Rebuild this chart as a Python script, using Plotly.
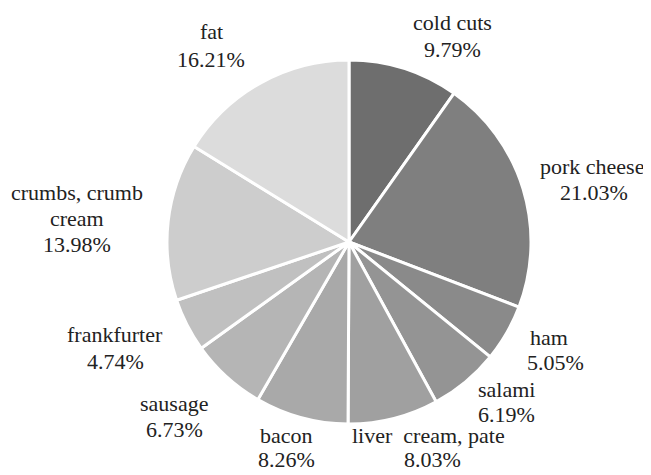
import plotly.graph_objects as go

categories = ["cold cuts", "pork cheese", "ham", "salami", "liver cream, pate",
              "bacon", "sausage", "frankfurter", "crumbs, crumb cream", "fat"]
values = [9.79, 21.03, 5.05, 6.19, 8.03, 8.26, 6.73, 4.74, 13.98, 16.21]
label_lines = [["cold cuts"], ["pork cheese"], ["ham"], ["salami"], ["liver  cream, pate"],
               ["bacon"], ["sausage"], ["frankfurter"], ["crumbs, crumb", "cream"], ["fat"]]
colors = ["#6e6e6e", "#7f7f7f", "#8a8a8a", "#949494", "#a0a0a0",
          "#a9a9a9", "#b5b5b5", "#c0c0c0", "#cdcdcd", "#dcdcdc"]

# page offset of the figure (browser body margin)
OFF = 8
W, H = 651 - OFF, 475 - OFF

# label anchor positions in window pixels (x center, y of first line)
label_pos = [(452, 22), (592, 166), (549, 337), (506, 389), (428, 435),
             (286, 435), (174, 403), (115, 334), (77, 192), (211, 32)]
pct_dx = [0, 2, 6, 0, 4, 0, 0, 0, 0, 0]
line_gap = [27, 26, 25, 25, 24, 24, 26, 27, 26, 27]

cx, cy, r = 349 - OFF, 242 - OFF, 182

fig = go.Figure(go.Pie(
    labels=categories, values=values, sort=False, direction="clockwise",
    rotation=0, marker=dict(colors=colors, line=dict(color="white", width=3)),
    textinfo="none", hoverinfo="label+percent", showlegend=False,
    domain=dict(x=[(cx - r) / W, (cx + r) / W], y=[1 - (cy + r) / H, 1 - (cy - r) / H]),
))

font = dict(family="Liberation Serif, Times New Roman, serif", size=22, color="#222222")
annotations = []
for i, cat in enumerate(categories):
    x0, y0 = label_pos[i]
    x0, y0 = x0 - OFF, y0 - OFF
    lines = label_lines[i] + [f"{values[i]:.2f}%"]
    for j, t in enumerate(lines):
        dx = pct_dx[i] if j == len(lines) - 1 else 0
        annotations.append(dict(
            text=t, x=(x0 + dx) / W, y=1 - (y0 + j * line_gap[i]) / H,
            xref="paper", yref="paper", showarrow=False,
            xanchor="center", yanchor="middle", font=font))

fig.update_layout(width=W, height=H, margin=dict(l=0, r=0, t=0, b=0),
                  paper_bgcolor="white", plot_bgcolor="white",
                  annotations=annotations)
fig.write_html("out.html")
